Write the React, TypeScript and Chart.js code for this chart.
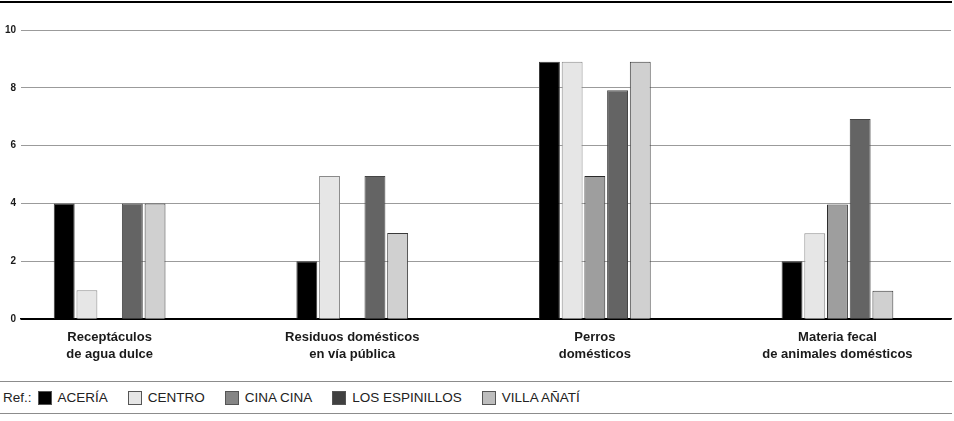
import React, { useEffect, useRef } from "react";
import { Chart, registerables } from "chart.js";

Chart.register(...registerables);

const categories: string[][] = [
  ["Receptáculos", "de agua dulce"],
  ["Residuos domésticos", "en vía pública"],
  ["Perros", "domésticos"],
  ["Materia fecal", "de animales domésticos"],
];
const seriesNames = ["ACERÍA", "CENTRO", "CINA CINA", "LOS ESPINILLOS", "VILLA AÑATÍ"];
const aceria = [4, 2, 8.9, 2];
const centro = [1, 4.95, 8.9, 2.97];
const cinaCina = [0, 0, 4.95, 3.97];
const losEspinillos = [4, 4.95, 7.92, 6.92];
const villaAnati = [4, 2.98, 8.9, 0.98];
const yTicks = [0, 2, 4, 6, 8, 10];

const seriesValues = [aceria, centro, cinaCina, losEspinillos, villaAnati];
const fills = ["#000000", "#e6e6e6", "#9e9e9e", "#646464", "#d0d0d0"];
const strokes = ["#3a3a3a", "#8a8a8a", "#2a2a2a", "#454545", "#3a3a3a"];
const legendFills = ["#000000", "#e6e6e6", "#858585", "#404040", "#bdbdbd"];

const FONT = "'Liberation Sans', Arial, Helvetica, sans-serif";

const topLine = {
  id: "topLine",
  afterDraw(chart: any) {
    const ctx = chart.ctx;
    ctx.save();
    ctx.strokeStyle = "#000";
    ctx.lineWidth = 2;
    ctx.beginPath();
    ctx.moveTo(0, 2);
    ctx.lineTo(952, 2);
    ctx.stroke();
    ctx.restore();
  },
};

export default function App() {
  const ref = useRef<HTMLCanvasElement | null>(null);

  useEffect(() => {
    if (!ref.current) return;
    const chart = new Chart(ref.current, {
      type: "bar",
      data: {
        datasets: seriesNames.map((name, s) => ({
          label: name,
          data: seriesValues[s].map((v, i) => ({ x: i, y: v === 0 ? null : v })),
          backgroundColor: fills[s],
          borderColor: strokes[s],
          borderWidth: 1,
          categoryPercentage: 0.468,
          barPercentage: 0.92,
        })) as any,
      },
      options: {
        animation: false,
        responsive: true,
        maintainAspectRatio: false,
        layout: { padding: { top: 30, left: 0, right: 3, bottom: 0 } },
        plugins: { legend: { display: false }, tooltip: { enabled: false } },
        scales: {
          x: {
            type: "linear",
            min: -0.3648,
            max: 3.468,
            bounds: "data",
            offset: false,
            afterBuildTicks: (scale: any) => {
              scale.ticks = categories.map((_, i) => ({ value: i }));
            },
            grid: { display: false, drawTicks: false, offset: false },
            border: { display: true, color: "#000", width: 1.5 },
            ticks: {
              autoSkip: false,
              maxRotation: 0,
              padding: 10,
              color: "#1a1a1a",
              font: { family: FONT, size: 13, weight: "bold", lineHeight: 1.3 },
              callback: (v: any) => categories[Math.round(v)] || "",
            },
          },
          y: {
            min: 0,
            max: 10,
            afterBuildTicks: (scale: any) => {
              scale.ticks = yTicks.map((v) => ({ value: v }));
            },
            grid: {
              drawTicks: false,
              color: (c: any) => (c.tick && c.tick.value === 0 ? "#000" : "#9b9b9b"),
              lineWidth: 1,
            },
            border: { display: false },
            ticks: {
              padding: 5,
              color: "#1a1a1a",
              font: { family: FONT, size: 10, weight: "bold" },
            },
          },
        },
      },
      plugins: [topLine],
    });
    return () => chart.destroy();
  }, []);

  return (
    <div
      style={{
        position: "absolute",
        left: 0,
        top: 0,
        width: 954,
        height: 421,
        background: "#fff",
        fontFamily: FONT,
      }}
    >
      <div style={{ position: "absolute", left: 0, top: 0, width: 954, height: 373 }}>
        <canvas ref={ref} />
      </div>
      <div
        style={{
          position: "absolute",
          left: 0,
          top: 381,
          width: 952,
          height: 31,
          background: "#fff",
          borderTop: "1px solid #8c8c8c",
          borderBottom: "1px solid #8c8c8c",
          display: "flex",
          alignItems: "center",
          fontSize: 13.5,
          color: "#222",
        }}
      >
        <span style={{ marginLeft: 3, marginRight: 6 }}>Ref.:</span>
        {seriesNames.map((name, s) => (
          <span key={name} style={{ display: "flex", alignItems: "center", marginRight: 20 }}>
            <span
              style={{
                display: "inline-block",
                width: 12,
                height: 12,
                background: legendFills[s],
                border: "1px solid #555",
                marginRight: 6,
              }}
            />
            <span>{name}</span>
          </span>
        ))}
      </div>
    </div>
  );
}
